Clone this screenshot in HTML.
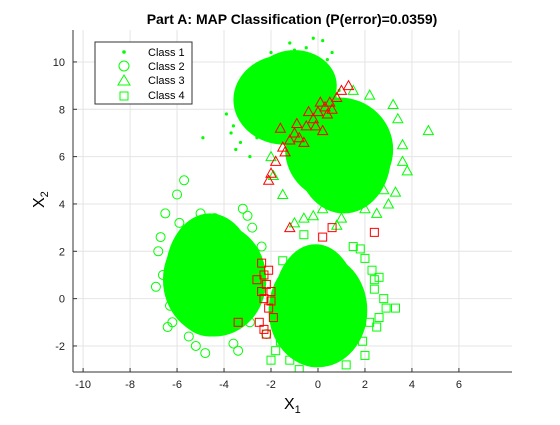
<!DOCTYPE html>
<html><head><meta charset="utf-8"><style>
body{margin:0;background:#fff;font-family:"Liberation Sans",sans-serif}
svg text{font-family:"Liberation Sans",sans-serif}
</style></head><body>
<svg id="chart" width="560" height="420" viewBox="0 0 560 420" xmlns="http://www.w3.org/2000/svg">
<defs><clipPath id="pc"><rect x="73" y="30" width="439" height="342"/></clipPath></defs>
<g id="grid"></g>
<g id="marks" clip-path="url(#pc)"></g>
<g id="axes"></g>
<text x="292" y="24" text-anchor="middle" font-size="14" font-weight="bold">Part A: MAP Classification (P(error)=0.0359)</text>
<text x="284" y="409" font-size="16">X<tspan font-size="11" dy="4">1</tspan></text>
<text transform="translate(44,208) rotate(-90)" font-size="16">X<tspan font-size="11" dy="4">2</tspan></text>
<g>
<rect x="95" y="42" width="97" height="62" fill="#fff" stroke="#333" stroke-width="1"/>
<circle cx="124" cy="52" r="1.8" fill="#00ff00"/>
<circle cx="124" cy="66" r="5" fill="none" stroke="#00ff00"/>
<polygon points="124,75 118,85 130,85" fill="none" stroke="#00ff00"/>
<rect x="120" y="92" width="8" height="8" fill="none" stroke="#00ff00"/>
<text x="148" y="56" font-size="11">Class 1</text>
<text x="148" y="70" font-size="11">Class 2</text>
<text x="148" y="84" font-size="11">Class 3</text>
<text x="148" y="99" font-size="11">Class 4</text>
</g>
</svg>
<script>
const xTicks=[-10,-8,-6,-4,-2,0,2,4,6];
const yTicks=[-2,0,2,4,6,8,10];
// dense cluster cores: [cx, cy, rx, ry] in data units
const coreClass1=[[-1.4,8.4,2.2,1.9],[-1.0,9.0,1.8,1.5]];
const coreClass2=[[-4.4,0.8,2.2,2.4],[-4.6,1.0,1.9,2.6]];
const coreClass3=[[0.9,6.3,2.3,2.2],[1.1,6.0,2.0,2.4]];
const coreClass4=[[0.0,-0.5,2.1,2.4],[-0.1,-0.3,1.8,2.6]];
// sparse points
const c1x=[-3.7,-3.2,-2.8,-4.9,-3.5,-2.9,-2.4,-1.5,-0.5,0.2,0.3,-1.8,-3.0,-2.5,0.6,-0.2,-3.9,-2.2,-1.2,0.9,-3.4,-3.6,-3.1,-2.7,-0.4,0.4,-1.0,-2.0,-3.3,-2.6];
const c1y=[7.0,7.6,8.6,6.8,6.3,6.0,9.5,10.2,10.6,10.9,9.8,10.0,8.0,7.2,10.4,11.0,7.8,9.2,10.8,8.8,8.3,7.3,9.0,9.8,10.3,10.1,10.5,10.4,6.6,6.8];
const c2x=[-6.5,-6.0,-5.7,-6.8,-5.2,-5.5,-6.2,-6.9,-3.0,-2.8,-2.4,-3.4,-5.9,-4.8,-2.2,-6.4,-4.0,-5.0,-6.6,-6.3,-2.6,-2.5,-3.6,-4.4,-5.4,-6.7,-2.9,-3.2];
const c2y=[3.6,4.4,5.0,2.0,-2.0,-1.6,-1.0,0.5,3.5,3.0,2.2,-2.2,3.2,-2.3,-1.5,-1.2,3.2,3.6,1.0,-0.3,1.5,0.8,-1.9,3.4,3.0,2.6,-1.0,3.8];
const c3x=[-2.0,-1.3,-1.0,3.2,3.6,4.7,3.8,2.8,-0.6,0.2,0.8,2.0,3.3,-1.9,1.5,-1.0,3.4,3.0,2.5,-0.2,-1.5,3.6,2.2,1.0];
const c3y=[6.0,7.0,3.2,8.2,6.5,7.1,5.4,4.6,3.4,3.8,3.1,3.8,4.5,5.2,8.8,5.9,7.6,4.0,3.6,3.5,4.4,5.8,8.6,3.4];
const c4x=[2.0,2.4,2.8,3.3,2.9,2.6,-2.0,-1.6,1.2,2.0,-0.8,0.9,2.2,2.5,-0.6,1.8,2.3,2.6,-1.5,-1.8,1.5,-1.2,1.9,2.4];
const c4y=[1.7,0.4,0.0,-0.4,-0.4,0.9,-2.6,-1.8,-2.8,-2.4,-3.0,-2.2,-1.0,-1.2,2.7,2.1,1.2,-0.8,1.6,-2.2,2.2,-2.6,-1.8,0.8];
// misclassified (red)
const e3x=[-2.0,-1.8,-1.5,-1.2,-1.0,-0.8,-0.5,-0.2,0.0,0.3,0.5,0.8,1.0,-1.6,-0.6,0.2,-2.1,-1.2,0.6,1.3,-0.9,-0.4,0.1,0.4,-1.4,-0.1];
const e3y=[5.3,5.8,6.4,6.7,7.0,6.8,7.3,7.6,7.9,8.1,8.3,8.5,8.8,7.2,6.6,7.1,5.0,3.0,8.0,9.0,7.4,7.9,8.3,7.8,6.2,7.3];
const e4x=[-2.4,-2.3,-2.2,-2.0,-2.3,-2.1,-2.5,-2.2,-1.9,-2.6,-3.4,-2.3,0.6,2.4,0.2,-2.1,-2.4,-2.0];
const e4y=[1.5,1.0,0.6,0.3,0.0,-0.4,-1.0,-1.5,-0.8,0.8,-1.0,-1.3,3.0,2.8,2.6,1.2,0.3,-0.1];

const NS='http://www.w3.org/2000/svg';
const X0=73,X1=512,Y0=30,Y1=372;
const xmin=-10.43,xmax=8.26,ymin=-3.1,ymax=11.35;
const sx=v=>X0+(v-xmin)/(xmax-xmin)*(X1-X0);
const sy=v=>Y1-(v-ymin)/(ymax-ymin)*(Y1-Y0);
function mk(t,a,p){const e=document.createElementNS(NS,t);for(const k in a)e.setAttribute(k,a[k]);p.appendChild(e);return e;}
const grid=document.getElementById('grid'),marks=document.getElementById('marks'),axes=document.getElementById('axes');
xTicks.forEach(t=>{const x=sx(t);
 mk('line',{x1:x,x2:x,y1:Y0,y2:Y1,stroke:'#e4e4e4'},grid);
 mk('line',{x1:x,x2:x,y1:Y1,y2:Y1-4,stroke:'#333'},axes);
 const l=mk('text',{x:x,y:Y1+16,'text-anchor':'middle','font-size':11,fill:'#222'},axes);l.textContent=t;
 
 });
yTicks.forEach(t=>{const y=sy(t);
 mk('line',{x1:X0,x2:X1,y1:y,y2:y,stroke:'#e4e4e4'},grid);
 mk('line',{x1:X0,x2:X0+4,y1:y,y2:y,stroke:'#333'},axes);
 const l=mk('text',{x:X0-8,y:y+4,'text-anchor':'end','font-size':11,fill:'#222'},axes);l.textContent=t;
 
 });
mk('line',{x1:X0,x2:X0,y1:Y0,y2:Y1,stroke:'#333'},axes);
mk('line',{x1:X0,x2:X1,y1:Y1,y2:Y1,stroke:'#333'},axes);
const G='#00ff00',R='#ff0000';
const px=(xmax-xmin)/(X1-X0),py=(ymax-ymin)/(Y1-Y0);
function cores(arr){arr.forEach(c=>{const e=mk('ellipse',{cx:sx(c[0]),cy:sy(c[1]),rx:c[2]/px,ry:c[3]/py,fill:G},marks);
 
 });}
function pts(xs,ys,shape,col){xs.forEach((v,i)=>{const x=sx(v),y=sy(ys[i]);let e;
 if(shape==='dot')e=mk('circle',{cx:x,cy:y,r:1.6,fill:col},marks);
 else if(shape==='circle')e=mk('circle',{cx:x,cy:y,r:4.5,fill:'none',stroke:col},marks);
 else if(shape==='tri')e=mk('polygon',{points:`${x},${y-5} ${x-5},${y+4} ${x+5},${y+4}`,fill:'none',stroke:col},marks);
 else e=mk('rect',{x:x-4,y:y-4,width:8,height:8,fill:'none',stroke:col},marks);
 
 });}
cores(coreClass1);pts(c1x,c1y,'dot',G);
cores(coreClass2);pts(c2x,c2y,'circle',G);
cores(coreClass3);pts(c3x,c3y,'tri',G);
cores(coreClass4);pts(c4x,c4y,'sq',G);
pts(e3x,e3y,'tri',R);pts(e4x,e4y,'sq',R);
</script>
</body></html>
